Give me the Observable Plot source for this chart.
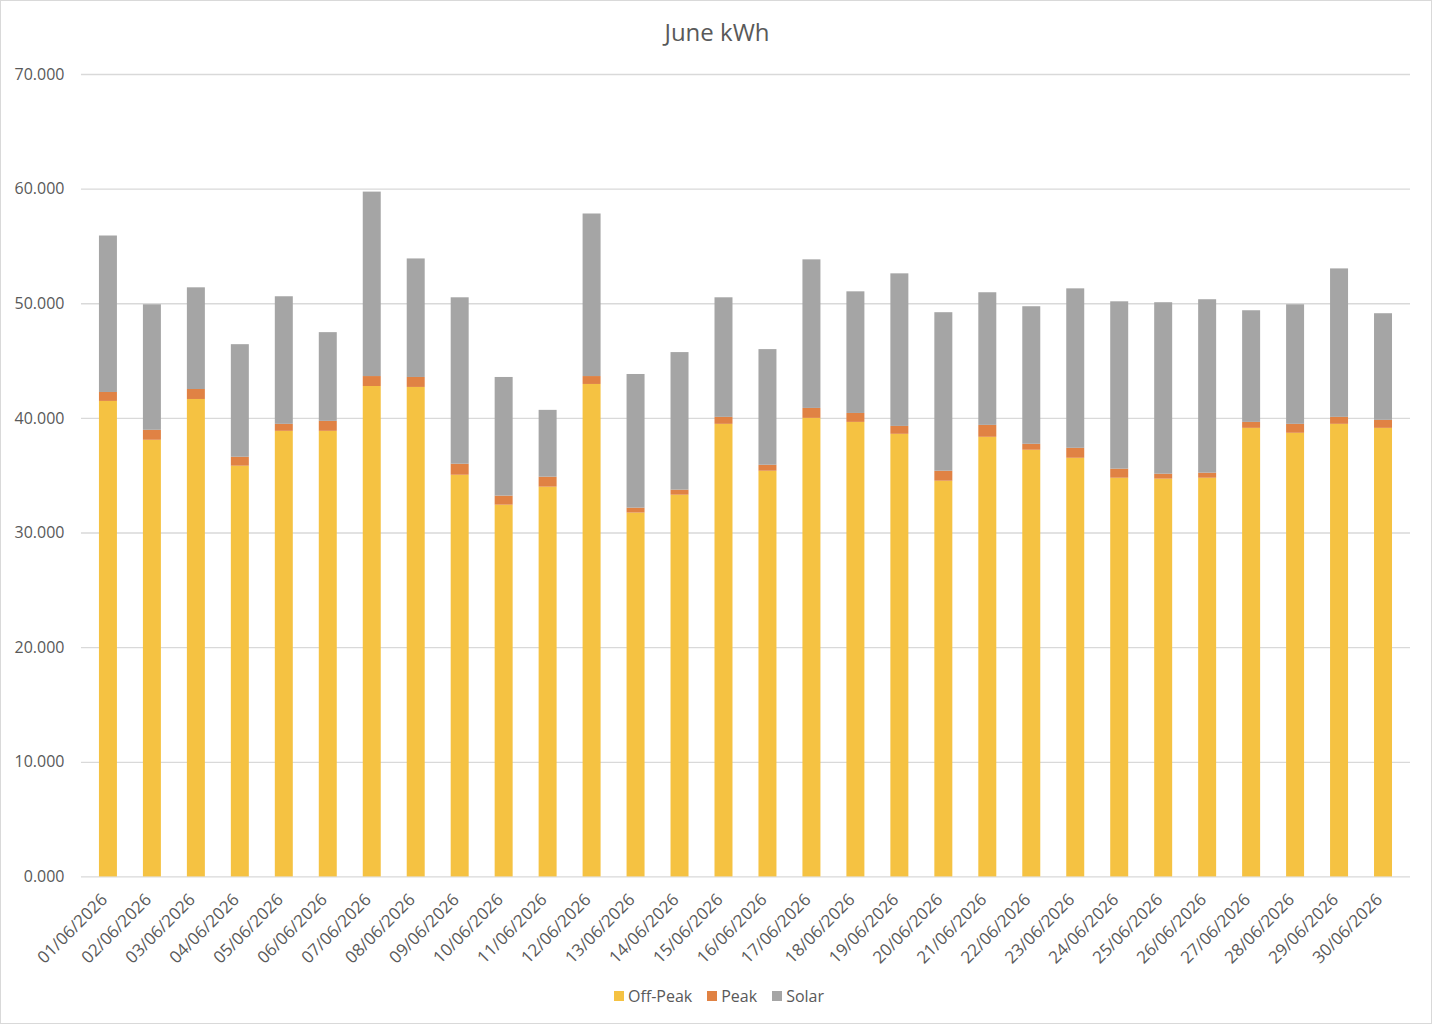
<!DOCTYPE html>
<html>
<head>
<meta charset="utf-8">
<script src="https://cdn.jsdelivr.net/npm/d3@7"></script>
<script src="https://cdn.jsdelivr.net/npm/@observablehq/plot@0.6"></script>
<style>
  html, body { margin: 0; padding: 0; background: #fff; }
  #frame { position: relative; width: 1432px; height: 1024px; box-sizing: border-box; border: 1px solid #d9d9d9; overflow: hidden; font-family: "Open Sans", sans-serif; color: #595959; }
  #title { position: absolute; left: 0; top: 0; width: 1432px; height: 62px; line-height: 62px; text-align: center; font-size: 24px; }
  #chart { position: absolute; left: -1px; top: 59px; }
  #legend { position: absolute; left: 0; top: 980px; width: 1432px; height: 30px; display: flex; justify-content: center; align-items: center; font-size: 16px; gap: 15px; padding-left: 4px; box-sizing: border-box; }
  .item { display: flex; align-items: center; gap: 4px; }
  .sw { width: 10px; height: 10px; display: inline-block; }
</style>
</head>
<body>
<div id="frame">
  <div id="title">June kWh</div>
  <div id="chart"></div>
  <div id="legend"></div>
</div>
<script>
const dates = ["01/06/2026","02/06/2026","03/06/2026","04/06/2026","05/06/2026","06/06/2026","07/06/2026","08/06/2026","09/06/2026","10/06/2026","11/06/2026","12/06/2026","13/06/2026","14/06/2026","15/06/2026","16/06/2026","17/06/2026","18/06/2026","19/06/2026","20/06/2026","21/06/2026","22/06/2026","23/06/2026","24/06/2026","25/06/2026","26/06/2026","27/06/2026","28/06/2026","29/06/2026","30/06/2026"];
const offPeak = [41.48,38.09,41.65,35.83,38.87,38.87,42.78,42.70,35.04,32.43,34.00,42.96,31.74,33.30,39.48,35.39,40.00,39.65,38.61,34.52,38.35,37.22,36.52,34.78,34.70,34.78,39.13,38.70,39.48,39.13];
const peak = [0.78,0.87,0.87,0.78,0.61,0.87,0.87,0.87,0.96,0.79,0.87,0.69,0.43,0.44,0.61,0.52,0.87,0.78,0.69,0.87,1.04,0.52,0.87,0.79,0.43,0.44,0.52,0.78,0.61,0.70];
const solar = [13.65,10.95,8.87,9.82,11.13,7.74,16.09,10.34,14.52,10.35,5.83,14.18,11.66,12.00,10.43,10.09,12.96,10.61,13.31,13.83,11.57,12.00,13.91,14.60,14.96,15.13,9.74,10.43,12.95,9.30];
const seriesNames = ["Off-Peak","Peak","Solar"];
const seriesColors = ["#F5C242","#E08244","#A5A5A5"];
const yTicks = [0,10,20,30,40,50,60,70];

const seriesValues = [offPeak, peak, solar];
const rows = [];
seriesNames.forEach((s, si) => {
  dates.forEach((d, i) => rows.push({date: d, series: s, value: seriesValues[si][i]}));
});

const chart = Plot.plot({
  width: 1432,
  height: 940,
  marginTop: 14,
  marginBottom: 123,
  marginLeft: 81,
  marginRight: 21,
  style: {fontFamily: "Open Sans, sans-serif", fontSize: "15px", color: "#595959", background: "transparent"},
  x: {domain: dates, paddingInner: 0.6, paddingOuter: 0.3, label: null},
  y: {domain: [0, 70], label: null},
  color: {domain: seriesNames, range: seriesColors},
  marks: [
    Plot.gridY(yTicks, {stroke: "#d9d9d9", strokeOpacity: 1, strokeWidth: 1.3}),
    Plot.barY(rows, {x: "date", y: "value", fill: "series", order: seriesNames}),
    Plot.axisY(yTicks, {tickSize: 0, tickPadding: 17, tickFormat: d3.format(".3f"), fontSize: 16, label: null}),
    Plot.axisX({tickSize: 0, tickRotate: -45, tickPadding: 20, fontSize: 17, dx: -4, label: null})
  ]
});
document.getElementById("chart").appendChild(chart);

const legend = document.getElementById("legend");
seriesNames.forEach((s, i) => {
  const item = document.createElement("span");
  item.className = "item";
  const sw = document.createElement("span");
  sw.className = "sw";
  sw.style.background = seriesColors[i];
  const t = document.createElement("span");
  t.textContent = s;
  item.appendChild(sw);
  item.appendChild(t);
  legend.appendChild(item);
});
</script>
</body>
</html>
